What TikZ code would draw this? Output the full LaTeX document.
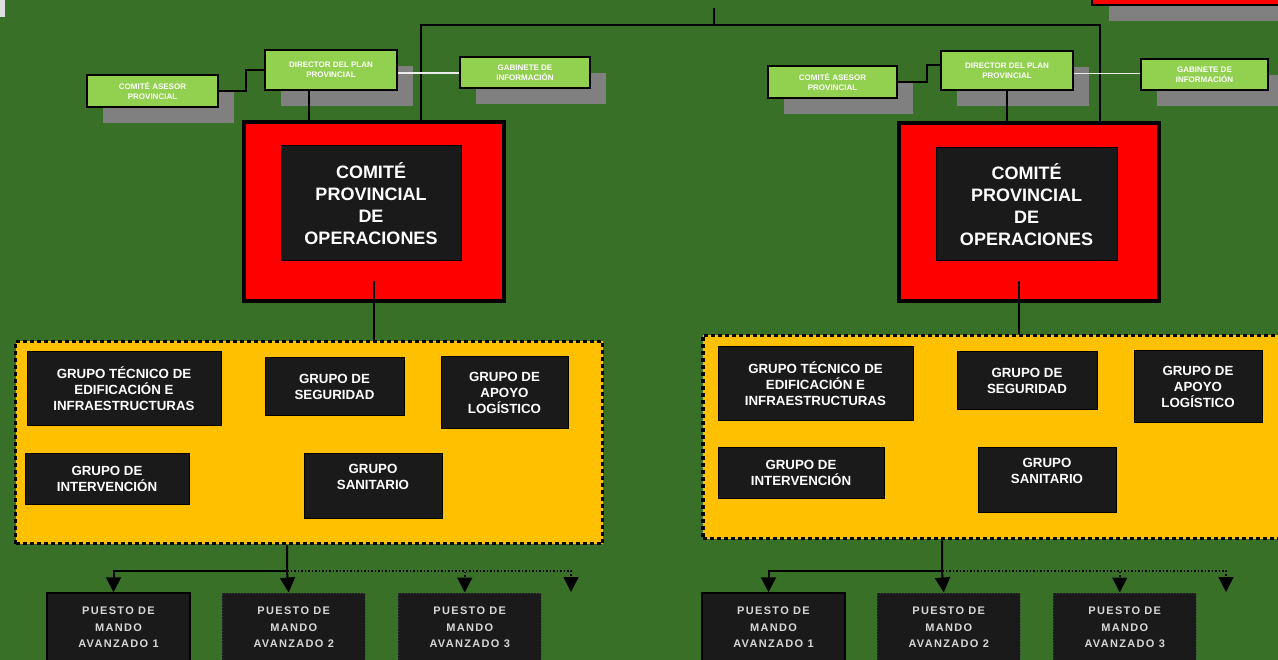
\documentclass[tikz,border=0pt]{standalone}
\usepackage{fontspec}
\setmainfont{Liberation Sans}
\newfontfamily\pmafont[LetterSpace=12]{Liberation Sans}
\usetikzlibrary{shapes, arrows.meta, positioning, shadows}

\definecolor{fondo}{RGB}{56,112,40}
\definecolor{verdeclaro}{RGB}{146,208,80}
\definecolor{sombra}{RGB}{128,128,128}
\definecolor{rojo}{RGB}{255,0,0}
\definecolor{amarillo}{RGB}{255,192,0}
\definecolor{oscuro}{RGB}{26,26,26}
\definecolor{gristexto}{RGB}{215,215,215}

\begin{document}
\begin{tikzpicture}[x=1pt, y=-1pt, >={Triangle[width=15pt,length=15pt]},
  verde/.style={draw, line width=2pt, fill=verdeclaro, text=white, align=center, inner sep=0pt,
    font=\fontsize{8}{10}\selectfont\bfseries,
    general shadow={fill=sombra, shadow xshift=16pt, shadow yshift=-16pt}},
  cpo/.style={draw, line width=4pt, fill=rojo, inner sep=0pt},
  cpoin/.style={draw, line width=1pt, fill=oscuro, text=white, align=center, inner sep=0pt,
    font=\fontsize{18}{22}\selectfont\bfseries},
  grupos/.style={draw, line width=3.5pt, dash pattern=on 4pt off 3pt, fill=amarillo, inner sep=0pt},
  grupo/.style={draw, line width=1pt, fill=oscuro, text=white, align=center, inner sep=0pt,
    font=\fontsize{13.3}{16}\selectfont\bfseries},
  puesto/.style={draw, line width=1.5pt, fill=oscuro, text=gristexto, align=center, inner sep=0pt,
    minimum width=143pt, minimum height=69pt, font=\pmafont\fontsize{11}{16.5}\selectfont\bfseries},
  puestodot/.style={puesto, draw=black!75, line width=1pt, dotted},
  conn/.style={line width=2pt},
  dotconn/.style={line width=1.5pt, dotted}
]
\useasboundingbox (0,0) rectangle (1278,660);
\clip (0,0) rectangle (1278,660);
\fill[fondo] (0,0) rectangle (1278,660);
\fill[black!13] (0,0) rectangle (5,17);

% Nodes (top)
\node (cpoSup) [cpo, line width=2pt, minimum width=198pt, minimum height=25pt,
  general shadow={fill=sombra, shadow xshift=17pt, shadow yshift=-16pt}] at (1191,-7.5) {};
\coordinate (arriba) at (714,8);
\coordinate (busTL) at (421,25);
\coordinate (busTR) at (1100,25);

% Nodes (left)
\node (asesorL) [verde, minimum width=131pt, minimum height=32pt] at (152.5,91) {COMITÉ ASESOR\\PROVINCIAL};
\node (dirL) [verde, minimum width=132pt, minimum height=40pt] at (331,70) {DIRECTOR DEL PLAN\\PROVINCIAL};
\node (gabL) [verde, minimum width=130pt, minimum height=31pt] at (525,72.5) {GABINETE DE\\INFORMACIÓN};
\node (cpoL) [cpo, minimum width=260pt, minimum height=179pt] at (374,211.5) {};
\node (cpoInL) [cpoin, minimum width=180pt, minimum height=115pt] at (371,203.5) {COMITÉ\\PROVINCIAL\\DE\\OPERACIONES};
\node (gruposL) [grupos, minimum width=587pt, minimum height=202pt] at (309,442.5) {};
\node (tecL) [grupo, minimum width=194pt, minimum height=74pt] at (124,389) {GRUPO TÉCNICO DE\\EDIFICACIÓN E\\INFRAESTRUCTURAS};
\node (segL) [grupo, minimum width=139pt, minimum height=58pt] at (334.5,387) {GRUPO DE\\SEGURIDAD};
\node (apoyoL) [grupo, minimum width=127pt, minimum height=72pt] at (504.5,393) {GRUPO DE\\APOYO\\LOGÍSTICO};
\node (intL) [grupo, minimum width=164pt, minimum height=51pt] at (107,478.5) {GRUPO DE\\INTERVENCIÓN};
\node (sanL) [grupo, text depth=18pt, minimum width=138pt, minimum height=65pt] at (373,485.5) {GRUPO\\SANITARIO};
\node (pma1L) [puesto] at (118.5,627.5) {PUESTO DE\\MANDO\\AVANZADO 1};
\node (pma2L) [puestodot, right=31pt of pma1L] {PUESTO DE\\MANDO\\AVANZADO 2};
\node (pma3L) [puestodot, right=32pt of pma2L] {PUESTO DE\\MANDO\\AVANZADO 3};
\coordinate (pma4L) at (571,592);
\coordinate (busL) at (287,571);

% Nodes (right)
\node (asesorR) [verde, minimum width=129pt, minimum height=32pt] at (832.5,82) {COMITÉ ASESOR\\PROVINCIAL};
\node (dirR) [verde, minimum width=132pt, minimum height=39pt] at (1007,70.5) {DIRECTOR DEL PLAN\\PROVINCIAL};
\node (gabR) [verde, minimum width=127pt, minimum height=31pt] at (1204.5,74.5) {GABINETE DE\\INFORMACIÓN};
\node (cpoR) [cpo, minimum width=260pt, minimum height=178pt] at (1029,212) {};
\node (cpoInR) [cpoin, minimum width=181pt, minimum height=113pt] at (1026.5,204.5) {COMITÉ\\PROVINCIAL\\DE\\OPERACIONES};
\node (gruposR) [grupos, minimum width=587pt, minimum height=203pt] at (996.5,437) {};
\node (tecR) [grupo, minimum width=195pt, minimum height=74pt] at (815.5,384) {GRUPO TÉCNICO DE\\EDIFICACIÓN E\\INFRAESTRUCTURAS};
\node (segR) [grupo, minimum width=140pt, minimum height=58pt] at (1027,381) {GRUPO DE\\SEGURIDAD};
\node (apoyoR) [grupo, minimum width=128pt, minimum height=72pt] at (1198,387) {GRUPO DE\\APOYO\\LOGÍSTICO};
\node (intR) [grupo, minimum width=166pt, minimum height=51pt] at (801,472.5) {GRUPO DE\\INTERVENCIÓN};
\node (sanR) [grupo, text depth=18pt, minimum width=138pt, minimum height=65pt] at (1047,479.5) {GRUPO\\SANITARIO};
\node (pma1R) [puesto] at (773.5,627.5) {PUESTO DE\\MANDO\\AVANZADO 1};
\node (pma2R) [puestodot, right=31pt of pma1R] {PUESTO DE\\MANDO\\AVANZADO 2};
\node (pma3R) [puestodot, right=32pt of pma2R] {PUESTO DE\\MANDO\\AVANZADO 3};
\coordinate (pma4R) at (1226,592);
\coordinate (busR) at (942,571);

% Arrows (top)
\draw[conn] (cpoL.north -| busTL) |- (busTR) -- (cpoR.north -| busTR);
\draw[conn] (arriba) -- (arriba |- busTL);

% Arrows (left)
\draw[conn] (asesorL.east) -- ++(27,0) |- (dirL.west);
\draw[line width=1.5pt, white!85!gray] ([yshift=-3pt]dirL.east) -- ([yshift=-3pt]dirL.east -| gabL.west);
\draw[conn] ([xshift=-22pt]dirL.south) -- ([xshift=-22pt]dirL.south |- cpoL.north);
\draw[conn] ([yshift=22pt]cpoL.south) -- (cpoL.south |- gruposL.north);
\draw[conn, ->] (gruposL.south -| busL) -- (busL) -- ([xshift=-5pt]pma2L.north);
\draw[conn, ->] (busL) -| ([xshift=-5pt]pma1L.north);
\draw[dotconn, ->] (busL) -| ([xshift=-5pt]pma3L.north);
\draw[dotconn, ->] (busL) -| (pma4L);

% Arrows (right)
\draw[conn] (asesorR.east) -- ++(29,0) |- ([yshift=5pt]dirR.west);
\draw[line width=1.5pt, white!85!gray] ([yshift=-3pt]dirR.east) -- ([yshift=-3pt]dirR.east -| gabR.west);
\draw[conn] (dirR.south) -- (dirR.south |- cpoR.north);
\draw[conn] ([xshift=-10pt,yshift=22pt]cpoR.south) -- ([xshift=-10pt]cpoR.south |- gruposR.north);
\draw[conn, ->] (gruposR.south -| busR) -- (busR) -- ([xshift=-5pt]pma2R.north);
\draw[conn, ->] (busR) -| ([xshift=-5pt]pma1R.north);
\draw[dotconn, ->] (busR) -| ([xshift=-5pt]pma3R.north);
\draw[dotconn, ->] (busR) -| (pma4R);

\end{tikzpicture}
\end{document}
